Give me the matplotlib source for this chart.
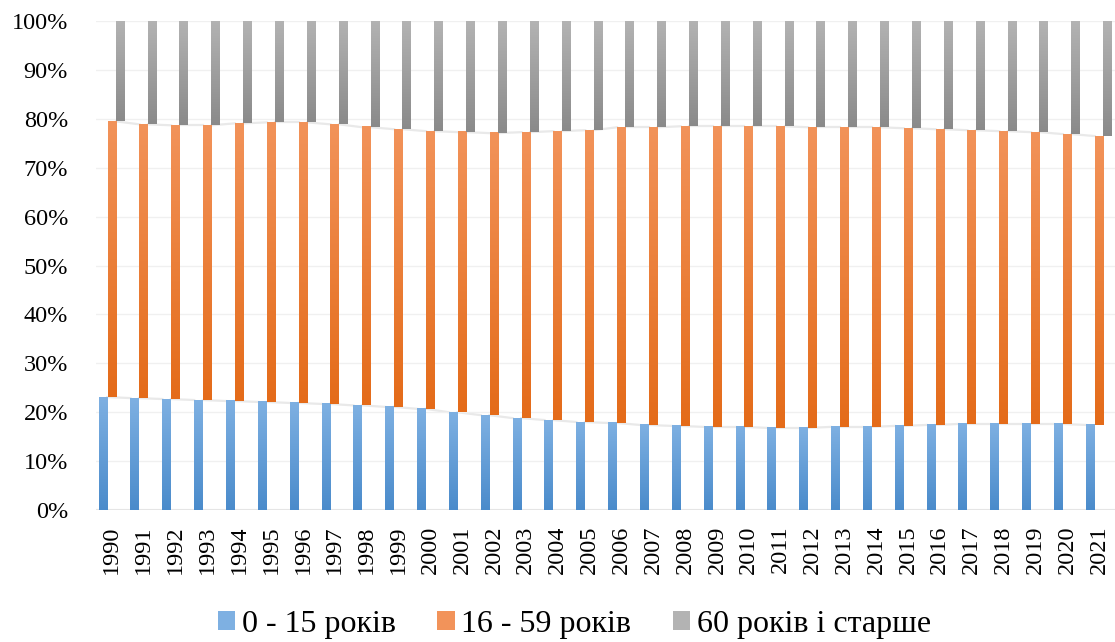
import numpy as np
import matplotlib
matplotlib.use('Agg')
import matplotlib.pyplot as plt
from matplotlib.colors import LinearSegmentedColormap
from matplotlib.patches import Patch

years = [str(y) for y in range(1990, 2022)]

# частки вікових груп, %
young = [23.1, 22.9, 22.7, 22.5, 22.3, 22.1, 21.9, 21.7, 21.4, 21.1, 20.7, 20.0,
         19.4, 18.8, 18.4, 18.0, 17.8, 17.4, 17.2, 17.0, 17.0, 16.8, 16.8, 17.0,
         17.0, 17.2, 17.4, 17.6, 17.6, 17.6, 17.6, 17.4]
working = [56.4, 56.0, 56.0, 56.2, 56.8, 57.2, 57.4, 57.2, 56.9, 56.8, 56.8, 57.3,
           57.7, 58.5, 59.1, 59.7, 60.5, 60.9, 61.3, 61.5, 61.5, 61.7, 61.5, 61.3,
           61.3, 60.9, 60.5, 60.1, 59.9, 59.7, 59.3, 59.1]
elderly = [20.5, 21.1, 21.3, 21.3, 20.9, 20.7, 20.7, 21.1, 21.7, 22.1, 22.5, 22.7,
           22.9, 22.7, 22.5, 22.3, 21.7, 21.7, 21.5, 21.5, 21.5, 21.5, 21.7, 21.7,
           21.7, 21.9, 22.1, 22.3, 22.5, 22.7, 23.1, 23.5]

labels = ['0 - 15 років', '16 - 59 років', '60 років і старше']
# (низ, верх) градієнта
colors = [('#4a8bcb', '#7eb0e2'), ('#e46b19', '#f2935a'), ('#8a8a8a', '#b3b3b3')]

plt.rcParams['font.family'] = ['Liberation Serif', 'DejaVu Serif']


def gradient_fill(ax, bars, c_bottom, c_top):
    cmap = LinearSegmentedColormap.from_list('g', [c_bottom, c_top])
    grad = np.linspace(0, 1, 256).reshape(-1, 1)
    for b in bars:
        x0, y0 = b.get_x(), b.get_y()
        w, h = b.get_width(), b.get_height()
        ax.imshow(grad, extent=[x0, x0 + w, y0, y0 + h], origin='lower',
                  cmap=cmap, aspect='auto', interpolation='bilinear', zorder=3)


def series_lines(ax, xs, tops, off, w):
    for i in range(len(xs) - 1):
        ax.plot([xs[i] + off + w / 2, xs[i + 1] + off - w / 2],
                [tops[i], tops[i + 1]], color='#e9e9e9', lw=1.6, zorder=1)


young = np.array(young)
working = np.array(working)
elderly = np.array(elderly)
total = young + working + elderly
series = [young / total * 100, working / total * 100, elderly / total * 100]

fig = plt.figure(figsize=(11.15, 6.42), dpi=100)
ax = fig.add_axes([0.086, 0.2056, 0.914, 0.7614])

x = np.arange(len(years))
w = 0.27
offsets = [-0.28, 0.0, 0.26]
bottom = np.zeros(len(years))
for vals, off, (cb, ct) in zip(series, offsets, colors):
    bars = ax.bar(x + off, vals, w, bottom=bottom, color=ct, zorder=2)
    gradient_fill(ax, bars, cb, ct)
    bottom = bottom + vals
    if off < 0.2:
        series_lines(ax, x, bottom, off, w)

ax.set_xlim(-0.5, len(years) - 0.5)
ax.set_ylim(0, 100)
ax.set_yticks(np.arange(0, 101, 10))
ax.set_yticklabels([f'{v}%' for v in range(0, 101, 10)], fontsize=17.5)
ax.set_xticks(x)
ax.set_xticklabels(years, rotation=90, fontsize=17.5)
ax.tick_params(axis='y', length=0, pad=20)
ax.tick_params(axis='x', length=0, pad=11)
ax.grid(axis='y', color='#f0f0f0', lw=1.0, zorder=0)
ax.axhline(0, color='#e3e3e3', lw=1.5, zorder=1)
for s in ax.spines.values():
    s.set_visible(False)

handles = [Patch(facecolor=c[1], edgecolor='none') for c in colors]
fig.legend(handles, labels, loc='center', bbox_to_anchor=(0.515, 0.028), ncol=3,
           frameon=False, fontsize=23, handlelength=0.55, handleheight=0.55,
           handletextpad=0.2, columnspacing=1.3)

fig.savefig('out.png', dpi=100)
